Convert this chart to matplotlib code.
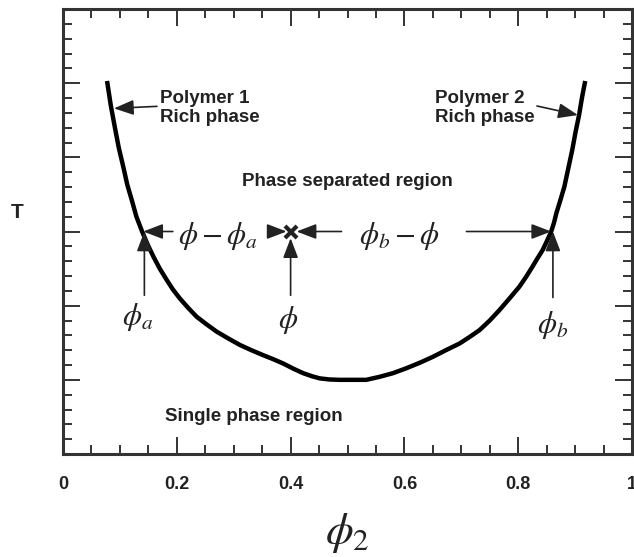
import numpy as np
import matplotlib.pyplot as plt
from matplotlib.ticker import MultipleLocator

plt.rcParams['font.family'] = ['Liberation Sans', 'DejaVu Sans']
plt.rcParams['mathtext.fontset'] = 'stix'

# Coexistence curve (phi_2, T in arbitrary units)
phi2 = [0.078, 0.084, 0.091, 0.098, 0.106, 0.113, 0.121, 0.129, 0.139, 0.149,
        0.159, 0.170, 0.182, 0.193, 0.205, 0.220, 0.235, 0.252, 0.270, 0.290,
        0.311, 0.331, 0.351, 0.369, 0.387, 0.405, 0.422, 0.437, 0.451, 0.468,
        0.486, 0.533, 0.556, 0.580, 0.603, 0.627, 0.650, 0.673, 0.697, 0.715,
        0.732, 0.750, 0.767, 0.785, 0.802, 0.814, 0.825, 0.834, 0.843, 0.851,
        0.858, 0.863, 0.867, 0.874, 0.881, 0.888, 0.895, 0.901, 0.907, 0.912,
        0.917]
temp = [5.00, 4.70, 4.41, 4.13, 3.87, 3.63, 3.42, 3.20, 3.00, 2.82,
        2.66, 2.50, 2.35, 2.22, 2.10, 1.97, 1.85, 1.75, 1.65, 1.56,
        1.47, 1.40, 1.335, 1.28, 1.22, 1.15, 1.09, 1.05, 1.02, 1.005,
        1.00, 1.00, 1.04, 1.09, 1.155, 1.23, 1.31, 1.40, 1.49, 1.58,
        1.67, 1.80, 1.94, 2.10, 2.255, 2.39, 2.525, 2.64, 2.75, 2.88,
        3.00, 3.12, 3.245, 3.42, 3.60, 3.85, 4.10, 4.35, 4.57, 4.80,
        5.00]

phi_a, phi_b, phi_mix = 0.139, 0.858, 0.40
t_line = 3.0

fig = plt.figure(figsize=(6.34, 5.57), dpi=100)
ax = fig.add_axes([63 / 634, 103 / 557, 569 / 634, 445 / 557])

ax.plot(phi2, temp, color='black', lw=3.2, solid_joinstyle='round')

ax.set_xlim(0, 1)
ax.set_ylim(0, 6)
ax.xaxis.set_minor_locator(MultipleLocator(0.05))
ax.yaxis.set_major_locator(MultipleLocator(1))
ax.yaxis.set_minor_locator(MultipleLocator(0.2))
ax.set_xticks([0, 0.2, 0.4, 0.6, 0.8, 1.0])
ax.set_xticklabels(['0', '0.2', '0.4', '0.6', '0.8', '1'], fontweight='bold')
ax.tick_params(which='both', direction='in', top=True, right=True,
               color='#333333', width=1.4)
ax.tick_params(which='major', length=12.5, pad=16, labelsize=13,
               labelcolor='#222222')
ax.tick_params(which='minor', length=6.5)
ax.tick_params(axis='y', labelleft=False)
for s in ax.spines.values():
    s.set_linewidth(2.2)
    s.set_color('#333333')

fig.text(17 / 634, 1 - 213 / 557, 'T', fontsize=15, fontweight='bold',
         ha='center', va='center', color='#222222')
fig.text(347 / 634, 1 - 533 / 557, r'$\phi_2$', fontsize=32,
         ha='center', va='center', color='#222222')

arrow = dict(arrowstyle='-|>,head_length=0.6,head_width=0.23',
             mutation_scale=20, color='#222222', lw=1.2,
             shrinkA=0, shrinkB=0)

# region labels
txt = dict(fontsize=13.5, fontweight='bold', color='#222222')
ax.annotate('Polymer 1\nRich phase', xy=(0.0895, 4.66), xytext=(0.170, 4.91),
            va='top', ha='left', arrowprops=dict(arrow, relpos=(-0.02, 0.55)),
            **txt)
ax.annotate('Polymer 2\nRich phase', xy=(0.905, 4.57), xytext=(0.653, 4.91),
            va='top', ha='left', arrowprops=dict(arrow, relpos=(0.96, 0.6)),
            **txt)
ax.text(0.50, 3.67, 'Phase separated region', ha='center', va='center', **txt)
ax.text(0.179, 0.50, 'Single phase region', ha='left', va='center', **txt)

# lever rule arrows
ax.annotate('', xy=(phi_a + 0.002, t_line), xytext=(0.193, t_line), arrowprops=arrow)
ax.annotate('', xy=(0.393, t_line), xytext=(0.363, t_line), arrowprops=arrow)
ax.annotate('', xy=(0.4105, t_line), xytext=(0.4895, t_line), arrowprops=arrow)
ax.annotate('', xy=(phi_b, t_line), xytext=(0.709, t_line), arrowprops=arrow)
ax.plot([phi_mix], [t_line], marker='x', color='#222222', ms=9, mew=3)

ax.annotate('', xy=(phi_a + 0.004, t_line), xytext=(phi_a + 0.004, 2.14), arrowprops=arrow)
ax.annotate('', xy=(phi_mix, 2.91), xytext=(phi_mix, 2.14), arrowprops=arrow)
ax.annotate('', xy=(phi_b + 0.003, t_line), xytext=(phi_b + 0.003, 2.11), arrowprops=arrow)

sym = dict(fontsize=22, color='#222222', ha='center', va='baseline')
ax.text(0.272, 2.83, r'$\phi - \phi_a$', **sym)
ax.text(0.591, 2.83, r'$\phi_b - \phi$', **sym)
ax.text(0.131, 1.74, r'$\phi_a$', **sym)
ax.text(0.395, 1.70, r'$\phi$', **sym)
ax.text(0.860, 1.63, r'$\phi_b$', **sym)

fig.savefig('out.png', dpi=100)
